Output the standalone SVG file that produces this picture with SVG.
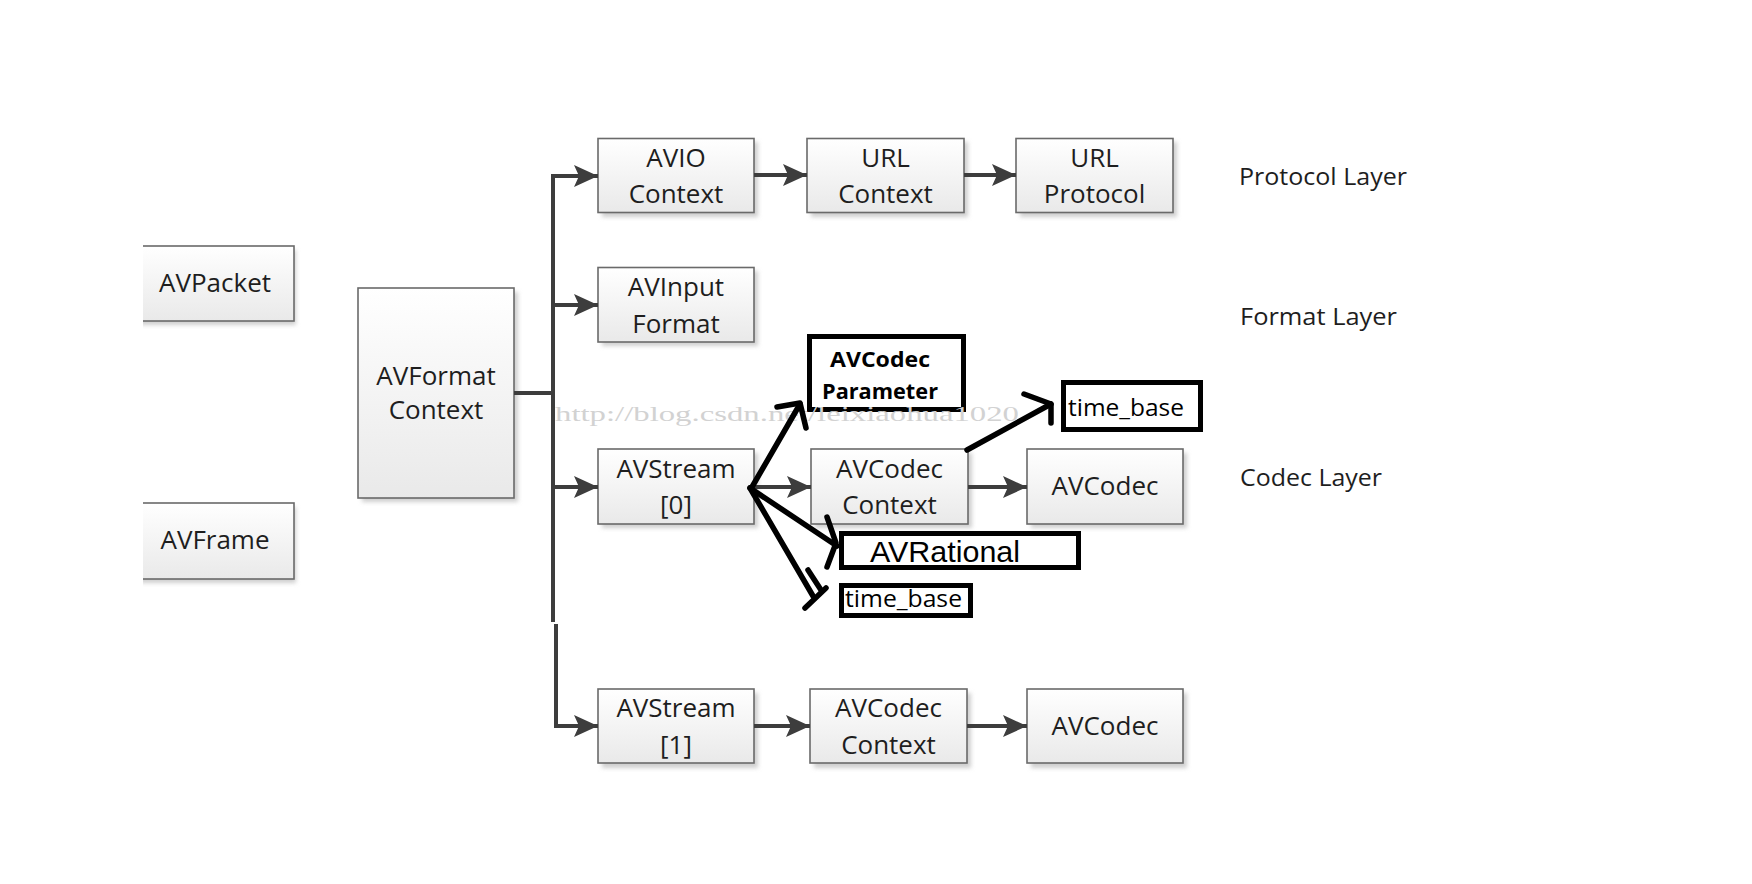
<svg xmlns="http://www.w3.org/2000/svg" width="1752" height="884" viewBox="0 0 1752 884">
<style>
.box{fill:url(#g);stroke:#6a6a6a;stroke-width:1.6}
.sh{fill:#cfcfcf;filter:url(#blur)}
.t{font-family:"Open Sans","Noto Sans",sans-serif;font-size:26px;fill:#1e1e1e;text-anchor:middle}
.lay{font-family:"Open Sans","Noto Sans",sans-serif;font-size:24px;fill:#1e1e1e}
.bold{fill:#fff;stroke:#000;stroke-width:5}
.bt{font-family:"Open Sans","Noto Sans",sans-serif;font-weight:bold;font-size:22px;fill:#000}
.rt{font-family:"Open Sans","Noto Sans",sans-serif;font-size:23px;fill:#000}
.c{stroke:#3d3d3d;stroke-width:4;fill:none}
.ca{stroke:#3d3d3d;stroke-width:4;fill:none;marker-end:url(#ah)}
.h{stroke:#000;stroke-width:5.5;fill:none;stroke-linecap:round;stroke-linejoin:round}
</style>
<defs>
<linearGradient id="g" x1="0" y1="0" x2="0" y2="1">
<stop offset="0" stop-color="#ffffff"/>
<stop offset="1" stop-color="#e9e9e9"/>
</linearGradient>
<filter id="blur" x="-10%" y="-10%" width="120%" height="130%"><feGaussianBlur stdDeviation="2"/></filter>
<marker id="ah" markerUnits="userSpaceOnUse" markerWidth="26" markerHeight="24" refX="24" refY="12" orient="auto" viewBox="0 0 26 24">
<path d="M0,1 L24,12 L0,23 L5,12 z" fill="#3d3d3d"/>
</marker>
</defs>
<rect width="1752" height="884" fill="#fff"/>

<g id="n-avpacket">
<rect class="sh" x="140" y="250" width="156" height="75"/>
<rect class="box" x="136" y="246" width="158" height="75"/>
<text class="t" x="215" y="292">AVPacket</text>
</g>
<g id="n-avframe">
<rect class="sh" x="140" y="507" width="156" height="76"/>
<rect class="box" x="136" y="503" width="158" height="76"/>
<text class="t" x="215" y="549">AVFrame</text>
</g>
<rect x="0" y="230" width="143" height="370" fill="#fff"/>

<g id="n-avformat">
<rect class="sh" x="362" y="292" width="156" height="210"/>
<rect class="box" x="358" y="288" width="156" height="210"/>
<text class="t" x="436" y="385">AVFormat</text>
<text class="t" x="436" y="419">Context</text>
</g>

<g id="n-avio">
<rect class="sh" x="602" y="142" width="156" height="75"/>
<rect class="box" x="598" y="138.5" width="156" height="74"/>
<text class="t" x="676" y="166.5">AVIO</text>
<text class="t" x="676" y="203">Context</text>
</g>
<g id="n-urlctx">
<rect class="sh" x="811" y="142" width="157" height="75"/>
<rect class="box" x="807" y="138.5" width="157" height="74"/>
<text class="t" x="885.5" y="166.5">URL</text>
<text class="t" x="885.5" y="203">Context</text>
</g>
<g id="n-urlproto">
<rect class="sh" x="1020" y="142" width="157" height="75"/>
<rect class="box" x="1016" y="138.5" width="157" height="74"/>
<text class="t" x="1094.5" y="166.5">URL</text>
<text class="t" x="1094.5" y="203">Protocol</text>
</g>
<g id="n-avinput">
<rect class="sh" x="602" y="271" width="156" height="75"/>
<rect class="box" x="598" y="267.5" width="156" height="74.5"/>
<text class="t" x="676" y="296">AVInput</text>
<text class="t" x="676" y="332.5">Format</text>
</g>
<g id="n-avstream0">
<rect class="sh" x="602" y="453" width="156" height="75"/>
<rect class="box" x="598" y="449" width="156" height="75"/>
<text class="t" x="676" y="477.5">AVStream</text>
<text class="t" x="676" y="514">[0]</text>
</g>
<g id="n-avcodecctx0">
<rect class="sh" x="815" y="453" width="157" height="75"/>
<rect class="box" x="811" y="449" width="157" height="75"/>
<text class="t" x="889.5" y="477.5">AVCodec</text>
<text class="t" x="889.5" y="514">Context</text>
</g>
<g id="n-avcodec0">
<rect class="sh" x="1031" y="453" width="156" height="75"/>
<rect class="box" x="1027" y="449" width="156" height="75"/>
<text class="t" x="1105" y="495">AVCodec</text>
</g>
<g id="n-avstream1">
<rect class="sh" x="602" y="693" width="156" height="75"/>
<rect class="box" x="598" y="689" width="156" height="74"/>
<text class="t" x="676" y="717">AVStream</text>
<text class="t" x="676" y="753.5">[1]</text>
</g>
<g id="n-avcodecctx1">
<rect class="sh" x="814" y="693" width="157" height="75"/>
<rect class="box" x="810" y="689" width="157" height="74"/>
<text class="t" x="888.5" y="717">AVCodec</text>
<text class="t" x="888.5" y="753.5">Context</text>
</g>
<g id="n-avcodec1">
<rect class="sh" x="1031" y="693" width="156" height="75"/>
<rect class="box" x="1027" y="689" width="156" height="74"/>
<text class="t" x="1105" y="735">AVCodec</text>
</g>

<g id="n-layers">
<text class="lay" x="1239" y="185" textLength="168" lengthAdjust="spacingAndGlyphs">Protocol Layer</text>
<text class="lay" x="1240" y="325" textLength="157" lengthAdjust="spacingAndGlyphs">Format Layer</text>
<text class="lay" x="1240" y="486" textLength="142" lengthAdjust="spacingAndGlyphs">Codec Layer</text>
</g>

<g id="n-avcodecparam">
<rect class="bold" x="809.5" y="336.5" width="154" height="73"/>
<text class="bt" x="830" y="367" textLength="100" lengthAdjust="spacingAndGlyphs">AVCodec</text>
<text class="bt" x="822" y="399" textLength="116" lengthAdjust="spacingAndGlyphs">Parameter</text>
</g>
<g id="n-timebase1">
<rect class="bold" x="1063.5" y="382.5" width="137" height="47"/>
<text class="rt" x="1068" y="416" textLength="116" lengthAdjust="spacingAndGlyphs">time_base</text>
</g>
<g id="n-avrational">
<rect class="bold" x="841.5" y="533.5" width="237" height="34"/>
<text x="870" y="562" font-family="Liberation Sans, Arial, sans-serif" font-size="29" fill="#000" textLength="150" lengthAdjust="spacingAndGlyphs">AVRational</text>
</g>
<g id="n-timebase2">
<rect class="bold" x="841.5" y="585.5" width="129" height="30"/>
<text class="rt" x="845" y="607" textLength="117" lengthAdjust="spacingAndGlyphs">time_base</text>
</g>

<text x="555" y="421" font-family="Liberation Serif, serif" font-size="22" fill="#d2d2d2" textLength="464" lengthAdjust="spacingAndGlyphs">http://blog.csdn.net/leixiaohua1020</text>

<g id="connectors">
<path class="c" d="M514,393 H553"/>
<path class="c" d="M553,175 V622"/>
<path class="c" d="M556,624 V728"/>
<path class="ca" d="M551,176 H598"/>
<path class="ca" d="M553,305 H598"/>
<path class="ca" d="M553,487 H598"/>
<path class="ca" d="M554,726 H598"/>
<path class="ca" d="M754,175 H807"/>
<path class="ca" d="M964,175 H1016"/>
<path class="ca" d="M754,487 H811"/>
<path class="ca" d="M968,487 H1027"/>
<path class="ca" d="M754,726 H810"/>
<path class="ca" d="M967,726 H1027"/>
<path class="h" d="M752,487 L800,404"/>
<path class="h" d="M777,407 L800,403 L806,428"/>
<path class="h" d="M967,450 L1051,404"/>
<path class="h" d="M1024,394 L1051,404 L1051,423"/>
<path class="h" d="M750,488 L837,546"/>
<path class="h" d="M827,517 L836,543 L827,567"/>
<path class="h" d="M750,488 L813,596"/>
<path class="h" d="M808,570 L821,590"/>
<path class="h" d="M826,588 L805,608"/>
</g>
</svg>
